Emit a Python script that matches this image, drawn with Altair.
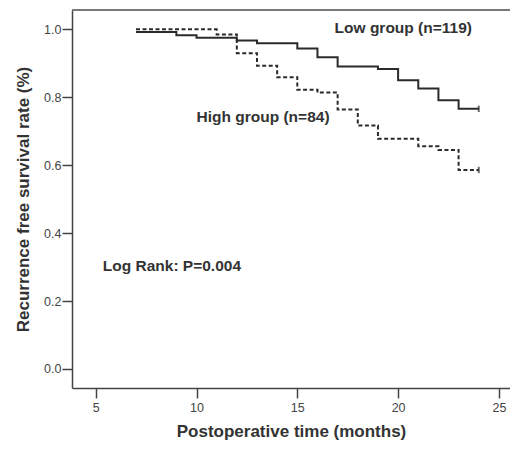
import altair as alt
import pandas as pd

# Kaplan-Meier step data
low_times = [7, 9, 10, 12, 13, 15, 16, 17, 19, 20, 21, 22, 23, 24]
low_surv = [0.992, 0.983, 0.975, 0.967, 0.959, 0.944, 0.918, 0.891, 0.883, 0.850, 0.826, 0.791, 0.766, 0.766]
high_times = [7, 11, 12, 13, 14, 15, 16, 17, 18, 19, 21, 22, 23, 24]
high_surv = [1.0, 0.985, 0.930, 0.893, 0.859, 0.822, 0.814, 0.764, 0.717, 0.678, 0.656, 0.645, 0.586, 0.586]

groups = ["Low group", "High group"]
censor_times = [24, 24]
censor_surv = [0.766, 0.586]

x_ticks = [5, 10, 15, 20, 25]
y_ticks = [0.0, 0.2, 0.4, 0.6, 0.8, 1.0]

label_texts = ["Low group (n=119)", "High group (n=84)", "Log Rank: P=0.004"]
label_x = [16.85, 10.0, 5.35]
label_y = [1.004, 0.743, 0.304]

df = pd.concat([
    pd.DataFrame({"time": low_times, "surv": low_surv, "group": "Low group"}),
    pd.DataFrame({"time": high_times, "surv": high_surv, "group": "High group"}),
])
cens = pd.DataFrame({"time": censor_times, "surv": censor_surv, "group": groups})
labels = pd.DataFrame({"text": label_texts, "x": label_x, "y": label_y})

W, H = 438, 378
xscale = alt.Scale(domain=[3.824, 25.55], nice=False, zero=False)
yscale = alt.Scale(domain=[-0.056, 1.057], nice=False, zero=False)

xenc = alt.X("time:Q", scale=xscale,
             axis=alt.Axis(values=x_ticks, title="Postoperative time (months)", format="d",
                           tickSize=10, labelPadding=3, titlePadding=10, grid=False))
yenc = alt.Y("surv:Q", scale=yscale,
             axis=alt.Axis(values=y_ticks, title="Recurrence free survival rate (%)", format=".1f",
                           tickSize=10, labelPadding=1, titlePadding=11, grid=False))

dash_scale = alt.Scale(domain=groups, range=[[1, 0], [4, 2.5]])

lines = alt.Chart(df).mark_line(interpolate="step-after", color="#2a2a2a", strokeWidth=2).encode(
    x=xenc, y=yenc,
    strokeDash=alt.StrokeDash("group:N", scale=dash_scale, legend=None),
    detail="group:N",
)

ticks = alt.Chart(cens).mark_point(shape="M0,-1L0,1", size=40, color="#2a2a2a", strokeWidth=2, filled=False).encode(
    x=alt.X("time:Q", scale=xscale), y=alt.Y("surv:Q", scale=yscale)
)

text = alt.Chart(labels).mark_text(align="left", baseline="middle", fontSize=15.5, fontWeight="bold",
                                   font="Liberation Sans", color="#333333").encode(
    x=alt.X("x:Q", scale=xscale), y=alt.Y("y:Q", scale=yscale), text="text:N"
)

top_line = alt.Chart(labels).mark_rule(color="#777777", strokeWidth=1.5).encode(
    x=alt.value(0), x2=alt.value(W), y=alt.value(0)
)

chart = alt.layer(top_line, lines, ticks, text).properties(
    width=W, height=H,
    autosize=alt.AutoSizeParams(type="none"),
    padding={"left": 64, "top": 2, "right": 0, "bottom": 54},
).configure_view(stroke=None).configure_axis(
    domainColor="#444444", domainWidth=1.5, tickColor="#444444", tickWidth=1.5,
    labelColor="#444444", labelFontSize=12.5, labelFont="Liberation Sans",
    titleFont="Liberation Sans", titleFontSize=17, titleFontWeight="bold", titleColor="#333333",
)

chart.save("out.html", embed_options={"renderer": "svg", "actions": False})
